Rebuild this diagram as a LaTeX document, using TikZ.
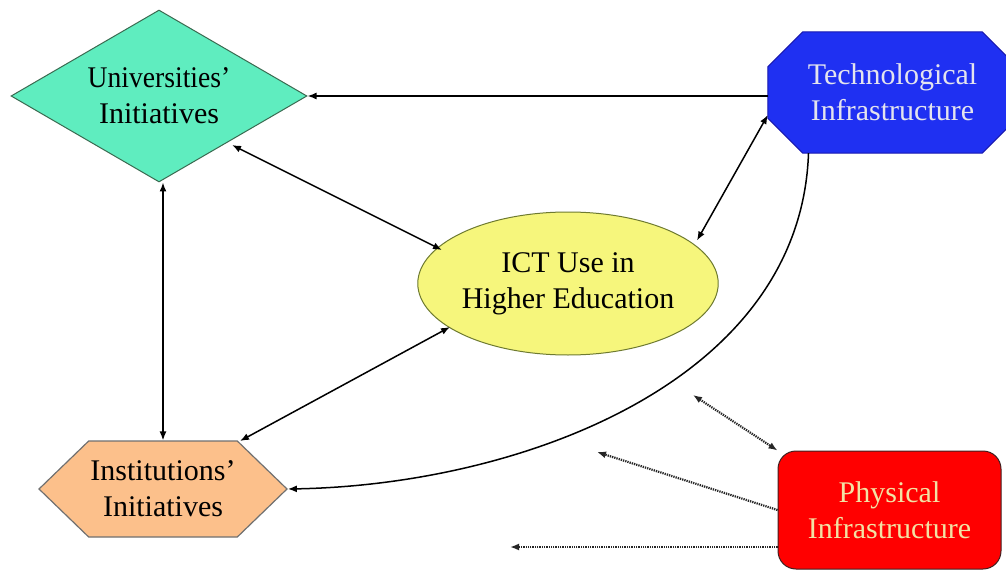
\documentclass[tikz,border=0pt]{standalone}
\usepackage{fontspec}
\setmainfont{Liberation Serif}
\usetikzlibrary{shapes.geometric,shapes.symbols,arrows.meta,backgrounds}
\definecolor{univfill}{HTML}{5FEDBF}
\definecolor{univline}{HTML}{3A6A50}
\definecolor{instfill}{HTML}{FCC08B}
\definecolor{instline}{HTML}{707070}
\definecolor{ictfill}{HTML}{F6F67C}
\definecolor{ictline}{HTML}{6E7A30}
\definecolor{techfill}{HTML}{1F30F2}
\definecolor{techline}{HTML}{1818B0}
\definecolor{techtext}{HTML}{E4E4EE}
\definecolor{physfill}{HTML}{FF0000}
\definecolor{physline}{HTML}{402020}
\definecolor{phystext}{HTML}{F2E2A4}
\begin{document}
\begin{tikzpicture}[x=1pt,y=-1pt,
  lbl/.style={font=\fontsize{30}{36}\selectfont, align=center, inner sep=0pt},
  link/.style={line width=1.5pt, -{Latex[length=9pt,width=7pt]}},
  dlink/.style={line width=1.5pt, {Latex[length=9pt,width=7pt]}-{Latex[length=9pt,width=7pt]}},
  dotlink/.style={line width=2.2pt, black!85, dash pattern=on 1.3pt off 1pt, -{Latex[length=9pt,width=7pt]}},
  ddotlink/.style={dotlink, {Latex[length=9pt,width=7pt]}-{Latex[length=9pt,width=7pt]}},
  ]
\clip (0,0) rectangle (1006,572);

\node[lbl, diamond, aspect=1.72, minimum width=296pt, minimum height=172pt,
      fill=univfill, draw=univline, line width=1pt] (univ) at (159,96)
      {\scalebox{0.92}[1]{Universities’}\\Initiatives};
\node[lbl, signal, signal to=west and east, signal pointer angle=88,
      minimum width=248pt, minimum height=96pt,
      fill=instfill, draw=instline, line width=1.2pt] (inst) at (163,489) {Institutions’\\Initiatives};
\node[lbl, ellipse, minimum width=290pt, minimum height=143pt,
      fill=ictfill, draw=ictline, line width=1pt] (ict) at (568,283.5) {ICT Use in\\Higher Education};
\node[lbl, rectangle, minimum width=249pt, minimum height=121pt, text=techtext] (tech) at (892.5,92.5)
      {Technological\\Infrastructure};
\node[lbl, rectangle, rounded corners=18pt, minimum width=223pt, minimum height=118pt,
      fill=physfill, draw=physline, line width=1pt, text=phystext] (phys) at (889.5,510) {Physical\\Infrastructure};

\begin{scope}[on background layer]
\fill[white] (0,0) rectangle (1006,572);
\filldraw[fill=techfill, draw=techline, line width=1pt]
  ([xshift=35pt]tech.north west) -- ([xshift=-35pt]tech.north east)
  -- ([yshift=-35pt]tech.north east) -- ([yshift=35pt]tech.south east)
  -- ([xshift=-35pt]tech.south east) -- ([xshift=35pt]tech.south west)
  -- ([yshift=35pt]tech.south west) -- ([yshift=-35pt]tech.north west) -- cycle;
\end{scope}

\draw[link] (tech.west |- univ.east) -- (univ.east);
\draw[dlink] ([shift={(73pt,-49pt)}]univ.center) -- ([shift={(-126pt,33.5pt)}]ict.center);
\draw[dlink] (inst.north |- univ.south) -- (inst.north);
\draw[dlink] ([shift={(-118pt,-43.5pt)}]ict.center) -- ([shift={(77pt,48pt)}]inst.center);
\draw[dlink] ([shift={(129pt,43pt)}]ict.center) -- ([yshift=-22.5pt]tech.west);
\draw[link] ([xshift=-84pt]tech.south) .. controls +(-8,230) and +(230,-4) .. (inst.east);

\coordinate (d1) at (693,395);
\coordinate (d2) at (597,452);
\coordinate (d3) at (510,547);
\draw[ddotlink] (d1) -- (phys.north west);
\draw[dotlink] (phys.west) -- (d2);
\draw[dotlink] ([yshift=-37pt]phys.west) -- (d3);
\end{tikzpicture}
\end{document}
